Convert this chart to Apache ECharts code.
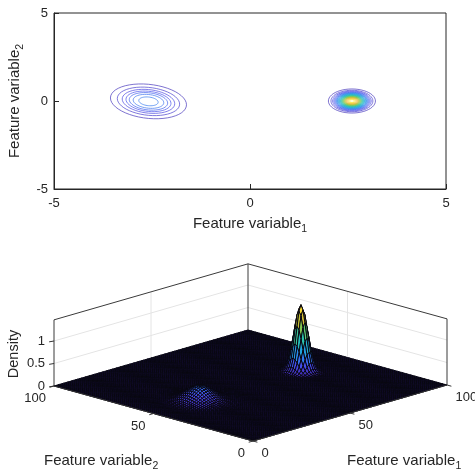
<!DOCTYPE html>
<html><head><meta charset="utf-8">
<style>html,body{margin:0;padding:0;background:#fff}#c{width:475px;height:476px}</style>
<script src="https://cdn.jsdelivr.net/npm/echarts@6/dist/echarts.min.js"></script>
</head><body><div id="c"></div>
<script>
// ---- data ----
const contourTicks = [-5, 0, 5];
const surfaceTicks = [0, 50, 100];
const densityTicks = [0, 0.5, 1];
const densityMax = 1.47;
const colourMax = 1.45;

// left cluster contours
const leftCentre = [-2.59, -0.02];
const leftLevels = [0.05, 0.10, 0.15, 0.20, 0.25, 0.30, 0.33];
const leftWidths = [0.97, 0.795, 0.67, 0.574, 0.49, 0.39, 0.247];
const leftAspect = 1.0, leftTilt = -0.2;

// right cluster contours
const rightCentre = [2.6, 0];
const rightLevels = [0.05,0.10,0.15,0.20,0.25,0.30,0.35,0.40,0.45,0.50,0.55,0.60,0.65,0.70,0.75,0.80,0.85,0.90,0.95,1.00,1.05,1.10,1.15,1.20,1.25,1.30,1.35,1.40];
const rightWidths = [0.60,0.535,0.492,0.46,0.434,0.41,0.39,0.371,0.354,0.337,0.322,0.307,0.293,0.279,0.266,0.252,0.239,0.226,0.213,0.199,0.186,0.172,0.158,0.142,0.126,0.108,0.087,0.061];
const rightAspect = 1.14;

// surface sections through each peak, from the centre outwards (grid cells)
const rightPeak = {x: 76, y: 50, height: 1.47};
const rightSectionX = [1,0.911,0.688,0.431,0.224,0.097,0.034,0.010,0.0025];
const rightSectionY = [1,0.930,0.747,0.518,0.311,0.161,0.072,0.028,0.009];
const leftPeak = {x: 24, y: 50, height: 0.33};
const leftSectionX = [1,0.98,0.92,0.832,0.721,0.6,0.48,0.368,0.271,0.191,0.13,0.085,0.053,0.032,0.018,0.01,0.005];
const leftSectionY = [1,0.981,0.928,0.845,0.741,0.626,0.509,0.399,0.301,0.219,0.153,0.103,0.067,0.042,0.025,0.015,0.008];

// ---- helpers ----
const ink = '#262626', font = '"Liberation Sans", Arial, sans-serif';
const parula = [[62,38,168],[71,73,235],[44,128,238],[31,168,217],[37,191,178],[95,199,106],[178,194,47],[248,186,61],[249,251,21]];
function colour(t){
  t = Math.max(0, Math.min(1, t)) * (parula.length - 1);
  const i = Math.min(parula.length - 2, Math.floor(t)), f = t - i;
  const c = parula[i].map((v, k) => Math.round(v + (parula[i + 1][k] - v) * f));
  return `rgb(${c})`;
}
const nGrid = 100;
const density = Array.from({length: nGrid + 1}, () => new Array(nGrid + 1).fill(0));
function addPeak(p, sx, sy){
  for (let dx = 1 - sx.length; dx < sx.length; dx++)
    for (let dy = 1 - sy.length; dy < sy.length; dy++)
      density[p.x + dx][p.y + dy] += p.height * sx[Math.abs(dx)] * sy[Math.abs(dy)];
}
addPeak(rightPeak, rightSectionX, rightSectionY);
addPeak(leftPeak, leftSectionX, leftSectionY);

// projected position of a (feature1, feature2, density) point on the lower panel's axes
const project = (x, y, z) => [x * 1.94 - y * 1.99, x * 0.56 + y * 0.55 + z * 45];

const cells = [];
for (let i = nGrid - 1; i >= 0; i--)
  for (let j = nGrid - 1; j >= 0; j--) cells.push([i, j]);

function ringsData(centre, levels, widths, aspect, tilt){
  return levels.map((l, k) => [centre[0], centre[1], widths[k], widths[k] * aspect, widths[k] * tilt, l]);
}
const ringSteps = Array.from({length: 49}, (_, k) => k / 48 * 2 * Math.PI);
function renderRing(p, api){
  const d = [0,1,2,3,4,5].map(k => api.value(k));
  const pts = ringSteps.map(t => api.coord([d[0] + d[2] * Math.cos(t), d[1] + d[3] * Math.sin(t) + d[4] * Math.cos(t)]));
  return {type: 'polyline', shape: {points: pts}, style: {fill: 'none', stroke: colour(d[5] / colourMax), lineWidth: 0.8, opacity: 0.85}};
}
function renderCell(p, api){
  const i = api.value(0), j = api.value(1);
  const z = [density[i][j], density[i+1][j], density[i+1][j+1], density[i][j+1]];
  const pts = [[i,j],[i+1,j],[i+1,j+1],[i,j+1]].map((c, k) => api.coord(project(c[0], c[1], z[k])));
  return {type: 'polygon', shape: {points: pts}, style: {fill: colour((z[0]+z[1]+z[2]+z[3]) / 4 / colourMax), stroke: '#07060f', lineWidth: 1}};
}

// wall and box lines on the lower panel
const XM = 100, YM = 100, ZM = densityMax;
const gridSegs = [];
densityTicks.slice(1).forEach(z => {
  gridSegs.push([0,YM,z, XM,YM,z]); gridSegs.push([XM,YM,z, XM,0,z]);
});
gridSegs.push([50,YM,0, 50,YM,ZM]); gridSegs.push([XM,50,0, XM,50,ZM]);
const backSegs = [[0,YM,ZM, XM,YM,ZM],[XM,YM,ZM, XM,0,ZM],[XM,YM,0, XM,YM,ZM],[0,YM,0, 0,YM,ZM],[XM,0,0, XM,0,ZM]];
const frontSegs = [[0,YM,0, 0,0,0],[0,0,0, XM,0,0]];
surfaceTicks.forEach(v => {
  frontSegs.push([v,0,0, v,-2.2,0]);
  frontSegs.push([0,v,0, -2.2,v,0]);
});
densityTicks.forEach(z => frontSegs.push([0,YM,z, -2,YM+0.5,z]));
function segRenderer(color, width){
  return (p, api) => {
    const v = [0,1,2,3,4,5].map(k => api.value(k));
    const a = api.coord(project(v[0],v[1],v[2])), b = api.coord(project(v[3],v[4],v[5]));
    return {type:'line', shape:{x1:a[0],y1:a[1],x2:b[0],y2:b[1]}, style:{stroke:color, lineWidth:width}};
  };
}
// tick labels of the lower panel: feature value, which axis
const labelRows = [];
surfaceTicks.forEach(v => { labelRows.push([v,0,0,'x']); labelRows.push([0,v,0,'y']); });
densityTicks.forEach(z => labelRows.push([0,YM,z,'z']));
function renderLabel(p, api){
  const r = labelRows[p.dataIndex], kind = r[3];
  const c = api.coord(project(r[0], r[1], r[2]));
  const text = String(kind === 'x' ? r[0] : kind === 'y' ? r[1] : r[2]);
  const off = {x:[8.5,12,'left'], y:[-8,12.5,'right'], z:[-9,0,'right']}[kind];
  return {type:'text', x:c[0]+off[0], y:c[1]+off[1], style:{text, fill:ink, font:`13px ${font}`, align:off[2], verticalAlign:'middle'}};
}

const lowerAxes = {
  x: {type:'value', gridIndex:1, min:-199, max:194, show:false},
  y: {type:'value', gridIndex:1, min:0, max:177, show:false}
};
const sub = {s:{fontSize:10.5, fontFamily:font, fill:ink, color:ink, padding:[11,0,0,0]}};
const option = {
  animation:false,
  textStyle:{fontFamily:font},
  grid:[
    {left:54, right:29, top:13, bottom:287, show:true, borderColor:ink, borderWidth:1, backgroundColor:'transparent', outerBoundsMode:'none'},
    {left:54, width:393, top:264, height:177, outerBoundsMode:'none'}
  ],
  xAxis:[
    {type:'value', gridIndex:0, min:contourTicks[0], max:contourTicks[2], interval:5, splitLine:{show:false},
     axisLine:{onZero:false, lineStyle:{color:ink}}, axisTick:{inside:true, length:5, lineStyle:{color:ink}},
     axisLabel:{color:ink, fontSize:13, margin:8, fontFamily:font, showMinLabel:true, showMaxLabel:true},
     name:'Feature variable{s|1}', nameLocation:'middle', nameGap:24,
     nameTextStyle:{color:ink, fontSize:15, fontFamily:font, rich:sub}},
    lowerAxes.x
  ],
  yAxis:[
    {type:'value', gridIndex:0, min:contourTicks[0], max:contourTicks[2], interval:5, splitLine:{show:false},
     axisLine:{onZero:false, lineStyle:{color:ink}}, axisTick:{inside:true, length:5, lineStyle:{color:ink}},
     axisLabel:{color:ink, fontSize:13, margin:6, fontFamily:font, showMinLabel:true, showMaxLabel:true},
     name:'Feature variable{s|2}', nameLocation:'middle', nameGap:23,
     nameTextStyle:{color:ink, fontSize:15, fontFamily:font, rich:sub}},
    lowerAxes.y
  ],
  graphic:[
    {type:'text', x:44, y:461, style:{text:'Feature variable{s|2}', fill:ink, font:`15px ${font}`, verticalAlign:'middle', rich:sub}},
    {type:'text', x:347, y:461, style:{text:'Feature variable{s|1}', fill:ink, font:`15px ${font}`, verticalAlign:'middle', rich:sub}},
    {type:'text', x:14, y:354, rotation:Math.PI/2, style:{text:'Density', fill:ink, font:`14.5px ${font}`, align:'center', verticalAlign:'middle'}}
  ],
  series:[
    {type:'custom', xAxisIndex:0, yAxisIndex:0, renderItem:renderRing, silent:true, clip:false,
     data:ringsData(leftCentre,leftLevels,leftWidths,leftAspect,leftTilt)},
    {type:'custom', xAxisIndex:0, yAxisIndex:0, renderItem:renderRing, silent:true, clip:false,
     data:ringsData(rightCentre,rightLevels,rightWidths,rightAspect,0)},
    {type:'custom', xAxisIndex:1, yAxisIndex:1, renderItem:segRenderer('#e4e4e4',1), silent:true, data:gridSegs},
    {type:'custom', xAxisIndex:1, yAxisIndex:1, renderItem:segRenderer('#3a3a3a',1), silent:true, data:backSegs},
    {type:'custom', xAxisIndex:1, yAxisIndex:1, renderItem:renderCell, silent:true, progressive:0, data:cells},
    {type:'custom', xAxisIndex:1, yAxisIndex:1, renderItem:segRenderer('#333',1), silent:true, z:3, data:frontSegs},
    {type:'custom', xAxisIndex:1, yAxisIndex:1, renderItem:renderLabel, silent:true, z:3, data:labelRows.map(r=>r.slice(0,3))}
  ]
};
echarts.init(document.getElementById('c'), null, {renderer:'canvas'}).setOption(option);
</script></body></html>
